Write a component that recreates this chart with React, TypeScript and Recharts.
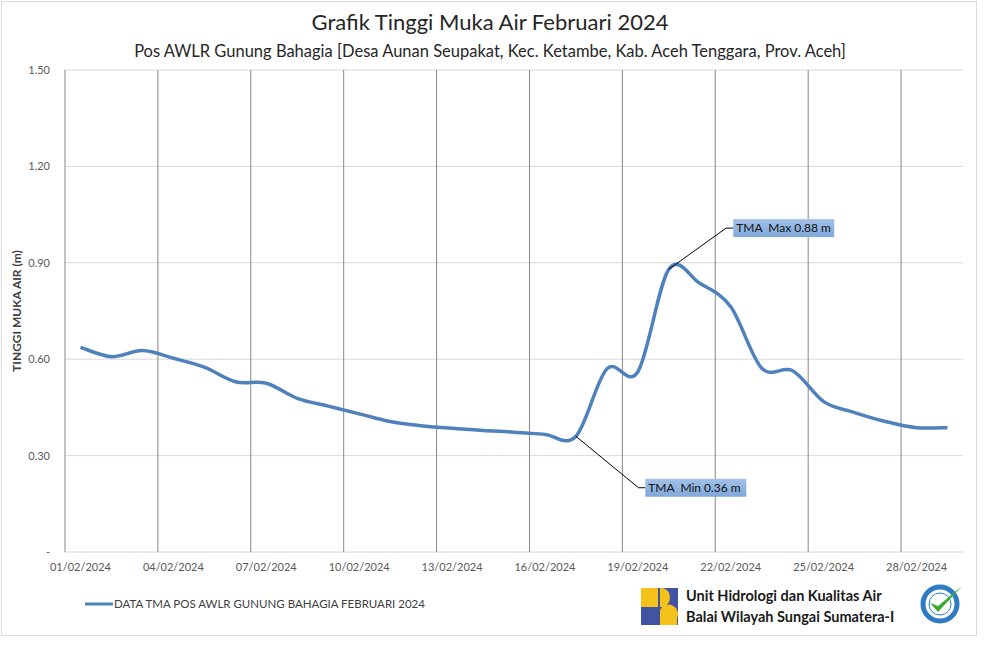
import React from 'react';
import {
  LineChart,
  Line,
  XAxis,
  YAxis,
  CartesianGrid,
  ReferenceLine,
  ReferenceDot,
  Legend,
} from 'recharts';

// ---- data ----
const days: number[] = [
  1, 2, 3, 4, 5, 6, 7, 8, 9, 10, 11, 12, 13, 14, 15, 16, 17, 18, 19, 20, 21, 22, 23, 24, 25, 26, 27, 28, 29,
];
const tmaValues: number[] = [
  0.637, 0.608, 0.627, 0.603, 0.575, 0.53, 0.525, 0.478, 0.454, 0.43, 0.406, 0.393, 0.385, 0.378, 0.373,
  0.366, 0.36, 0.57, 0.561, 0.88, 0.836, 0.763, 0.572, 0.564, 0.468, 0.434, 0.406, 0.387, 0.387,
];
const labelDays: number[] = [1, 4, 7, 10, 13, 16, 19, 22, 25, 28];
const yTicks: number[] = [0, 0.3, 0.6, 0.9, 1.2, 1.5];
const seriesName = 'DATA TMA POS AWLR GUNUNG BAHAGIA FEBRUARI 2024';
const maxPoint = { day: 20, value: 0.88, label: 'TMA\u00A0 Max 0.88 m' };
const minPoint = { day: 17, value: 0.36, label: 'TMA\u00A0 Min 0.36 m' };

// chart table: each day is a category centred at (day - 0.5)
const data = days.map((d, i) => ({ x: d - 0.5, tma: tmaValues[i] }));
const boundaryTicks = labelDays.map((d) => d - 1);
const centerTicks = labelDays.map((d) => d - 0.5);

const FONT = 'Lato, "Open Sans", sans-serif';
const LINE_COLOR = '#4F81BD';
const VGRID = '#878787';

// Excel-like smooth curve (Catmull-Rom style cubic Bezier)
function excelSmooth(context: any) {
  let pts: number[][] = [];
  return {
    areaStart() {},
    areaEnd() {},
    lineStart() {
      pts = [];
    },
    point(x: number, y: number) {
      pts.push([+x, +y]);
    },
    lineEnd() {
      if (!pts.length) return;
      context.moveTo(pts[0][0], pts[0][1]);
      const t = 1 / 6;
      for (let i = 0; i < pts.length - 1; i++) {
        const p0 = pts[i - 1] || pts[i];
        const p1 = pts[i];
        const p2 = pts[i + 1];
        const p3 = pts[i + 2] || p2;
        context.bezierCurveTo(
          p1[0] + (p2[0] - p0[0]) * t,
          p1[1] + (p2[1] - p0[1]) * t,
          p2[0] - (p3[0] - p1[0]) * t,
          p2[1] - (p3[1] - p1[1]) * t,
          p2[0],
          p2[1]
        );
      }
    },
  };
}

const formatDay = (v: number) => {
  const d = Math.round(v + 0.5);
  return `${d < 10 ? '0' : ''}${d}/02/2024`;
};

const makeBox = (text: string, id: string) => (props: any) => {
  const { cx, cy } = props;
  if (cx == null || cy == null) return null;
  return (
    <g>
      <defs>
        <linearGradient id={id} x1="0" y1="0" x2="0" y2="1">
          <stop offset="0%" stopColor="#A3C1E8" />
          <stop offset="100%" stopColor="#7FA8DB" />
        </linearGradient>
      </defs>
      <rect x={cx} y={cy - 9} width={101} height={18} fill={`url(#${id})`} />
      <text x={cx + 3} y={cy + 4} fontSize={12} fontFamily={FONT} fill="#111" style={{ whiteSpace: 'pre' }}>
        {text}
      </text>
    </g>
  );
};

const LegendContent = () => (
  <div style={{ display: 'flex', alignItems: 'center', fontFamily: FONT, fontSize: 11.5, color: '#404040' }}>
    <svg width={30} height={10}>
      <line x1={1} y1={5} x2={29} y2={5} stroke={LINE_COLOR} strokeWidth={3} />
    </svg>
    <span style={{ whiteSpace: 'nowrap' }}>{seriesName}</span>
  </div>
);

const PULogo = () => (
  <svg width={37} height={37} viewBox="0 0 37 37">
    <rect x={0} y={0} width={37} height={37} fill="#4153A2" />
    <rect x={0} y={0} width={17} height={19} fill="#F5C219" />
    <path d="M19 0 H22 A10 10 0 0 1 22 19 H19 Z" fill="#F5C219" />
    <path d="M19 37 V22 A8 8 0 0 1 36 30 V37 Z" fill="#F5C219" />
    <rect x={0} y={22} width={17} height={15} fill="#4153A2" />
  </svg>
);

const IsoBadge = () => (
  <svg width={50} height={42} viewBox="0 0 50 42">
    <circle cx={22} cy={22} r={17} fill="#fff" stroke="#2F7BC4" strokeWidth={5} />
    <circle cx={22} cy={22} r={11} fill="#fff" stroke="#2F7BC4" strokeWidth={1} />
    <path d="M12 21 L20 30 L44 4 L20 24 Z" fill="#3DAA35" />
  </svg>
);

export default function App() {
  return (
    <div style={{ position: 'absolute', left: 0, top: 0, width: 984, height: 660, background: '#fff' }}>
      <div
        style={{
          position: 'absolute',
          left: 1,
          top: 1,
          width: 976,
          height: 635,
          border: '1px solid #D9D9D9',
          boxSizing: 'border-box',
        }}
      />
      <LineChart width={984} height={660} data={data} margin={{ top: 70, right: 21, bottom: 78, left: 0 }}>
        <CartesianGrid xAxisId="labels" vertical={false} stroke="#D9D9D9" />
        <XAxis
          xAxisId="marks"
          type="number"
          dataKey="x"
          domain={[0, 29]}
          ticks={boundaryTicks}
          interval={0}
          height={0}
          tick={false}
          tickSize={4}
          tickLine={{ stroke: VGRID }}
          axisLine={{ stroke: '#D9D9D9' }}
        />
        <XAxis
          xAxisId="labels"
          type="number"
          dataKey="x"
          domain={[0, 29]}
          ticks={centerTicks}
          interval={0}
          height={30}
          tickLine={false}
          axisLine={false}
          tickSize={0}
          tickMargin={11}
          tickFormatter={formatDay}
          tick={{ fill: '#595959', fontSize: 11, fontFamily: FONT }}
        />
        <YAxis
          type="number"
          domain={[0, 1.5]}
          ticks={yTicks}
          interval={0}
          width={65}
          tickLine={false}
          axisLine={false}
          tickSize={0}
          tickMargin={15}
          tickFormatter={(v: number) => (v === 0 ? '-' : v.toFixed(2))}
          tick={{ fill: '#595959', fontSize: 11, fontFamily: FONT }}
          label={{
            value: 'TINGGI MUKA AIR (m)',
            angle: -90,
            position: 'insideLeft',
            offset: 17,
            style: { textAnchor: 'middle', fontWeight: 700, fontSize: 12, fill: '#404040', fontFamily: FONT },
          }}
        />
        {boundaryTicks.map((b) => (
          <ReferenceLine key={'v' + b} xAxisId="marks" x={b} stroke={VGRID} strokeWidth={1} />
        ))}
        <Line
          xAxisId="labels"
          type={excelSmooth as any}
          dataKey="tma"
          name={seriesName}
          stroke={LINE_COLOR}
          strokeWidth={3.5}
          dot={false}
          activeDot={false}
          isAnimationActive={false}
        />
        <ReferenceLine
          xAxisId="labels"
          segment={[
            { x: maxPoint.day - 0.5, y: maxPoint.value },
            { x: maxPoint.day + 1.35, y: maxPoint.value + 0.128 },
          ]}
          stroke="#000"
          strokeWidth={1}
        />
        <ReferenceLine
          xAxisId="labels"
          segment={[
            { x: maxPoint.day + 1.35, y: maxPoint.value + 0.128 },
            { x: maxPoint.day + 1.58, y: maxPoint.value + 0.128 },
          ]}
          stroke="#000"
          strokeWidth={1}
        />
        <ReferenceDot
          xAxisId="labels"
          x={maxPoint.day + 1.58}
          y={maxPoint.value + 0.128}
          r={0}
          shape={makeBox(maxPoint.label, 'gradMax')}
        />
        <ReferenceLine
          xAxisId="labels"
          segment={[
            { x: minPoint.day - 0.5, y: minPoint.value },
            { x: minPoint.day + 1.52, y: minPoint.value - 0.16 },
          ]}
          stroke="#000"
          strokeWidth={1}
        />
        <ReferenceLine
          xAxisId="labels"
          segment={[
            { x: minPoint.day + 1.52, y: minPoint.value - 0.16 },
            { x: minPoint.day + 1.74, y: minPoint.value - 0.16 },
          ]}
          stroke="#000"
          strokeWidth={1}
        />
        <ReferenceDot
          xAxisId="labels"
          x={minPoint.day + 1.74}
          y={minPoint.value - 0.16}
          r={0}
          shape={makeBox(minPoint.label, 'gradMin')}
        />
        <Legend
          layout="horizontal"
          verticalAlign="middle"
          align="center"
          wrapperStyle={{ top: 597, left: 84, width: 420, height: 20 }}
          content={LegendContent}
        />
      </LineChart>
      <div
        style={{
          position: 'absolute',
          left: 0,
          width: 980,
          top: 8,
          textAlign: 'center',
          fontFamily: FONT,
          fontSize: 22,
          color: '#262626',
          lineHeight: '28px',
        }}
      >
        Grafik Tinggi Muka Air Februari 2024
      </div>
      <div
        style={{
          position: 'absolute',
          left: 0,
          width: 980,
          top: 40,
          textAlign: 'center',
          fontFamily: FONT,
          fontSize: 16.5,
          color: '#262626',
          lineHeight: '22px',
        }}
      >
        Pos AWLR Gunung Bahagia [Desa Aunan Seupakat, Kec. Ketambe, Kab. Aceh Tenggara, Prov. Aceh]
      </div>
      <div style={{ position: 'absolute', left: 641, top: 588 }}>
        <PULogo />
      </div>
      <div
        style={{
          position: 'absolute',
          left: 686,
          top: 585,
          fontFamily: FONT,
          fontWeight: 700,
          fontSize: 14.5,
          lineHeight: '21px',
          color: '#1A1A1A',
          whiteSpace: 'nowrap',
        }}
      >
        <div>Unit Hidrologi dan Kualitas Air</div>
        <div>Balai Wilayah Sungai Sumatera-I</div>
      </div>
      <div style={{ position: 'absolute', left: 918, top: 582 }}>
        <IsoBadge />
      </div>
    </div>
  );
}
